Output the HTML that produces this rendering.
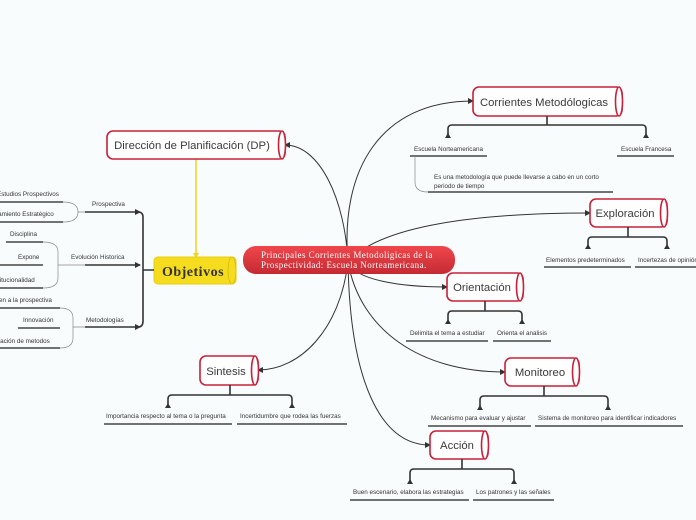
<!DOCTYPE html>
<html><head><meta charset="utf-8">
<style>
html,body{margin:0;padding:0;background:#f9fcfd;}
svg{display:block;font-family:"Liberation Sans",sans-serif;}
.sub{font-size:6.3px;fill:#333;}
.ul{stroke:#444;stroke-width:1.6;fill:none;}
.br{stroke:#333;stroke-width:1.6;fill:none;}
.main{stroke:#333;stroke-width:1;fill:none;}
.nd{fill:#fff;stroke:#c8203a;stroke-width:1.6;}
.nt{font-size:11.3px;fill:#3a3a3a;text-anchor:middle;}
</style></head><body>
<svg width="696" height="520" viewBox="0 0 696 520">
<defs>
<linearGradient id="rg" x1="0" y1="0" x2="0" y2="1"><stop offset="0" stop-color="#f0474c"/><stop offset="1" stop-color="#c42a33"/></linearGradient>
<marker id="ar" markerWidth="6" markerHeight="6" refX="5" refY="3" orient="auto"><path d="M0,0 L6,3 L0,6z" fill="#333"/></marker>
</defs>
<rect width="696" height="520" fill="#f9fcfd"/>

<path class="main" d="M348,262 C340,170 380,101 473,101" marker-end="url(#ar)"/>
<path class="main" d="M348,262 C345,200 320,145 285,145" marker-end="url(#ar)"/>
<path class="main" d="M348,262 C380,225 480,213 590,213" marker-end="url(#ar)"/>
<path class="main" d="M348,262 C355,280 400,287 447,287" marker-end="url(#ar)"/>
<path class="main" d="M348,262 C360,330 420,372 505,372" marker-end="url(#ar)"/>
<path class="main" d="M348,262 C340,330 300,370 258,370" marker-end="url(#ar)"/>
<path class="main" d="M348,262 C350,380 380,445 430,445" marker-end="url(#ar)"/>

<line x1="196" y1="159" x2="196" y2="255" stroke="#f2d21b" stroke-width="1.5"/>
<path d="M193,253 L199,253 L196,258z" fill="#f2d21b"/>

<rect x="243" y="246" width="212" height="28" rx="13" fill="url(#rg)"/>
<text x="261" y="258" font-family="Liberation Serif" font-size="9" letter-spacing="0.45" fill="#fff">Principales Corrientes Metodoligicas de la</text>
<text x="261" y="268" font-family="Liberation Serif" font-size="9" letter-spacing="0.45" fill="#fff">Prospectividad: Escuela Norteamericana.</text>

<rect x="154" y="257" width="82" height="27" rx="4" fill="#f5dc1e" stroke="#e8cc10"/>
<ellipse cx="232" cy="270.5" rx="4" ry="13.5" fill="#f5dc1e" stroke="#d6bb00" stroke-width="0.8"/>
<text x="193" y="276" text-anchor="middle" font-family="Liberation Serif" font-weight="bold" font-size="14" fill="#333" letter-spacing="0.5">Objetivos</text>
<path class="br" d="M154,270 L143,270 M85,212 L138,212 Q143,212 143,217 L143,321 Q143,327 138,327 L85,327 M85,265 L140,265"/>
<path d="M135,209 L141,212 L135,215z M135,262 L141,265 L135,268z M135,324 L141,327 L135,330z" fill="#333"/>
<text x="92" y="206" class="sub">Prospectiva</text>
<text x="71" y="259" class="sub">Evolución Historica</text>
<text x="86" y="322" class="sub">Metodologías</text>
<path d="M63,202 Q78,202 78,212 Q78,222 63,222 M78,212 L85,212" stroke="#888" stroke-width="0.7" fill="none"/>
<path d="M43,242 Q58,242 58,252 L58,278 Q58,288 43,288 M58,265 L85,265" stroke="#888" stroke-width="0.7" fill="none"/>
<path d="M60,308 Q73,308 73,318 L73,338 Q73,348 60,348 M73,327 L85,327" stroke="#888" stroke-width="0.7" fill="none"/>
<text x="-3" y="196" class="sub">Estudios Prospectivos</text><line class="ul" x1="0" y1="202" x2="63" y2="202"/>
<text x="-5" y="216" class="sub">samiento Estratégico</text><line class="ul" x1="0" y1="222" x2="63" y2="222"/>
<text x="10" y="236" class="sub">Disciplina</text><line class="ul" x1="6" y1="242" x2="43" y2="242"/>
<text x="18" y="259" class="sub">Expone</text><line class="ul" x1="0" y1="265" x2="43" y2="265"/>
<text x="-2" y="282" class="sub">titucionalidad</text><line class="ul" x1="0" y1="288" x2="43" y2="288"/>
<text x="-1" y="302" class="sub">en a la prospectiva</text><line class="ul" x1="0" y1="308" x2="60" y2="308"/>
<text x="23" y="322" class="sub">Innovación</text><line class="ul" x1="18" y1="328" x2="60" y2="328"/>
<text x="-2" y="343" class="sub">ración de metodos</text><line class="ul" x1="0" y1="348" x2="60" y2="348"/>

<rect class="nd" x="473" y="87" width="149" height="29" rx="6"/><ellipse class="nd" cx="619" cy="101.5" rx="3.5" ry="14.5"/>
<text class="nt" x="544" y="106">Corrientes Metodólogicas</text>
<rect class="nd" x="107" y="131" width="178" height="28" rx="6"/><ellipse class="nd" cx="282" cy="145" rx="3.5" ry="14"/>
<text class="nt" x="192" y="149">Dirección de Planificación (DP)</text>
<rect class="nd" x="590" y="199" width="77" height="28" rx="6"/><ellipse class="nd" cx="664" cy="213" rx="3.5" ry="14"/>
<text class="nt" x="625" y="217">Exploración</text>
<rect class="nd" x="447" y="273" width="76" height="28" rx="6"/><ellipse class="nd" cx="520" cy="287" rx="3.5" ry="14"/>
<text class="nt" x="482" y="291">Orientación</text>
<rect class="nd" x="505" y="358" width="74" height="28" rx="6"/><ellipse class="nd" cx="576" cy="372" rx="3.5" ry="14"/>
<text class="nt" x="540" y="376">Monitoreo</text>
<rect class="nd" x="200" y="356" width="58" height="29" rx="6"/><ellipse class="nd" cx="255" cy="370.5" rx="3.5" ry="14.5"/>
<text class="nt" x="226" y="375">Sintesis</text>
<rect class="nd" x="430" y="431" width="58" height="28" rx="6"/><ellipse class="nd" cx="485" cy="445" rx="3.5" ry="14"/>
<text class="nt" x="457" y="449">Acción</text>

<path class="br" d="M547,116 L547,125 M448,136 L448,129 Q448,125 452,125 L642,125 Q646,125 646,129 L646,136"/>
<path d="M445,138 L451,138 L448,133z M643,138 L649,138 L646,133z" fill="#333"/>
<text x="414" y="151" class="sub">Escuela Norteamericana</text><line class="ul" x1="410" y1="156" x2="487" y2="156"/>
<text x="621" y="151" class="sub">Escuela Francesa</text><line class="ul" x1="617" y1="156" x2="674" y2="156"/>
<path d="M415,156 L415,182 Q415,192 428,192" stroke="#888" stroke-width="0.7" fill="none"/>
<text x="434" y="179" class="sub">Es una metodología que puede llevarse a cabo en un corto</text>
<text x="434" y="188" class="sub">periodo de tiempo</text>
<line class="ul" x1="428" y1="192" x2="613" y2="192"/>

<path class="br" d="M628,227 L628,237 M588,246 L588,241 Q588,237 592,237 L663,237 Q667,237 667,241 L667,246"/>
<path d="M585,249 L591,249 L588,244z M664,249 L670,249 L667,244z" fill="#333"/>
<text x="546" y="262" class="sub">Elementos predeterminados</text><line class="ul" x1="544" y1="267" x2="631" y2="267"/>
<text x="638" y="262" class="sub">Incertezas de opinión</text><line class="ul" x1="635" y1="267" x2="696" y2="267"/>

<path class="br" d="M485,301 L485,311 M448,321 L448,315 Q448,311 452,311 L518,311 Q522,311 522,315 L522,321"/>
<path d="M445,324 L451,324 L448,319z M519,324 L525,324 L522,319z" fill="#333"/>
<text x="410" y="335" class="sub">Delimita el tema a estudiar</text><line class="ul" x1="406" y1="341" x2="488" y2="341"/>
<text x="497" y="335" class="sub">Orienta el analisis</text><line class="ul" x1="493" y1="341" x2="551" y2="341"/>

<path class="br" d="M544,386 L544,396 M480,407 L480,400 Q480,396 484,396 L604,396 Q608,396 608,400 L608,407"/>
<path d="M477,410 L483,410 L480,405z M605,410 L611,410 L608,405z" fill="#333"/>
<text x="431" y="420" class="sub">Mecanismo para evaluar y ajustar</text><line class="ul" x1="428" y1="426" x2="531" y2="426"/>
<text x="538" y="420" class="sub">Sistema de monitoreo para identificar indicadores</text><line class="ul" x1="535" y1="426" x2="683" y2="426"/>

<path class="br" d="M230,385 L230,395 M168,405 L168,399 Q168,395 172,395 L288,395 Q292,395 292,399 L292,405"/>
<path d="M165,408 L171,408 L168,403z M289,408 L295,408 L292,403z" fill="#333"/>
<text x="106" y="418" class="sub">Importancia respecto al tema o la pregunta</text><line class="ul" x1="104" y1="424" x2="232" y2="424"/>
<text x="240" y="418" class="sub">Incertidumbre que rodea las fuerzas</text><line class="ul" x1="237" y1="424" x2="347" y2="424"/>

<path class="br" d="M462,459 L462,469 M410,481 L410,473 Q410,469 414,469 L510,469 Q514,469 514,473 L514,481"/>
<path d="M407,484 L413,484 L410,479z M511,484 L517,484 L514,479z" fill="#333"/>
<text x="353" y="494" class="sub">Buen escenario, elabora las estrategias</text><line class="ul" x1="350" y1="500" x2="469" y2="500"/>
<text x="476" y="494" class="sub">Los patrones y las señales</text><line class="ul" x1="473" y1="500" x2="554" y2="500"/>
</svg>
</body></html>
